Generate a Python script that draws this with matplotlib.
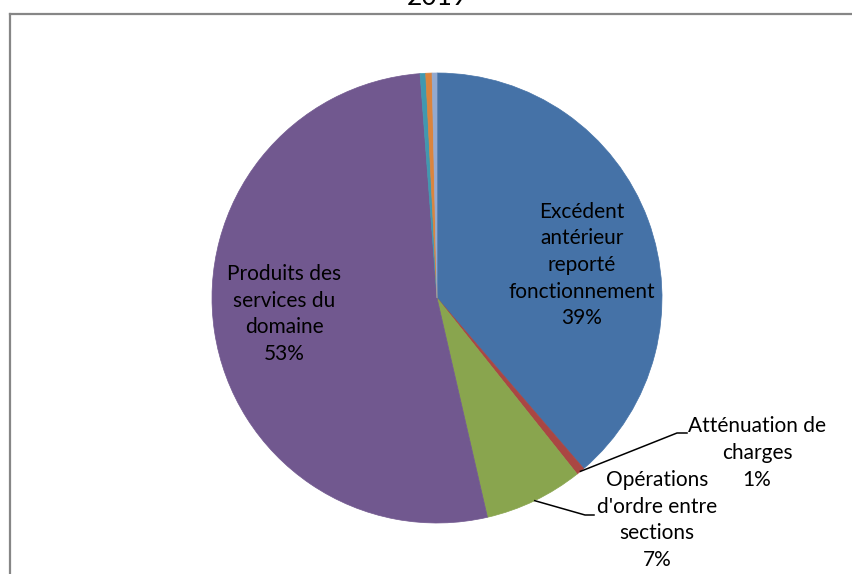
import matplotlib
matplotlib.use("Agg")
import matplotlib.pyplot as plt
import numpy as np
from matplotlib.lines import Line2D

# Data
categories = ["Excédent antérieur reporté fonctionnement", "Atténuation de charges",
              "Opérations d'ordre entre sections", "Produits des services du domaine",
              "Autre 1", "Autre 2", "Autre 3"]
values = [38.7, 0.6, 7.1, 52.4, 0.4, 0.45, 0.35]
colors = ["#4572A7", "#AA4643", "#89A54E", "#71588F", "#4198AF", "#DB843D", "#93A9CF"]
label_texts = ["Excédent\nantérieur\nreporté\nfonctionnement\n39%", "Atténuation de\ncharges\n1%",
               "Opérations\nd'ordre entre\nsections\n7%", "Produits des\nservices du\ndomaine\n53%",
               "", "", ""]
title = "2019"

W, H = 852, 574
cx, cy, R = 437, 298, 225
fig = plt.figure(figsize=(W/100, H/100), dpi=100)
ax = fig.add_axes([0, 0, 1, 1])

def px(x, y):
    return (x - cx)/R, (cy - y)/R

wedges, _ = ax.pie(values, colors=colors, startangle=90, counterclock=False,
                   radius=1.0, center=(0, 0), frame=True,
                   wedgeprops=dict(linewidth=0.5))
for w, c in zip(wedges, colors):
    w.set_edgecolor(c)
ax.set_xlim(-cx/R, (W-cx)/R)
ax.set_ylim(-(H-cy)/R, cy/R)
ax.set_aspect("equal")
ax.axis("off")

font = dict(family="Lato", fontsize=15, color="black", linespacing=1.42, ha="center", va="center")

# inside labels
ax.text(*px(582, 265), label_texts[0], **font)
ax.text(*px(284, 314), label_texts[3], **font)
# outside labels
ax.text(*px(757, 453), label_texts[1], **font)
ax.text(*px(657, 520), label_texts[2], **font)

def mid_point(w):
    ang = np.deg2rad((w.theta1 + w.theta2) / 2)
    return np.cos(ang), np.sin(ang)

# leader lines
x0, y0 = mid_point(wedges[1])
ax.add_line(Line2D([x0, px(677, 433)[0], px(687, 433)[0]],
                   [y0, px(677, 433)[1], px(687, 433)[1]], color="black", lw=1.1))
x0, y0 = mid_point(wedges[2])
ax.add_line(Line2D([x0, px(585, 515)[0], px(594, 515)[0]],
                   [y0, px(585, 515)[1], px(594, 515)[1]], color="black", lw=1.1))

# frame
fx, fy = 9.5, 13.5
ax.add_line(Line2D([px(fx, 0)[0], px(W + 5, 0)[0]], [px(0, fy)[1]]*2, color="#868686", lw=1.6))
ax.add_line(Line2D([px(fx, 0)[0]]*2, [px(0, fy)[1], px(0, H + 5)[1]], color="#868686", lw=1.6))

# title (cut off at the top edge, as in the reference)
fig.text(cx / W, 1 - 5 / H, title, family="Lato", fontsize=19, ha="center", va="baseline")

fig.savefig("out.png", dpi=100)
